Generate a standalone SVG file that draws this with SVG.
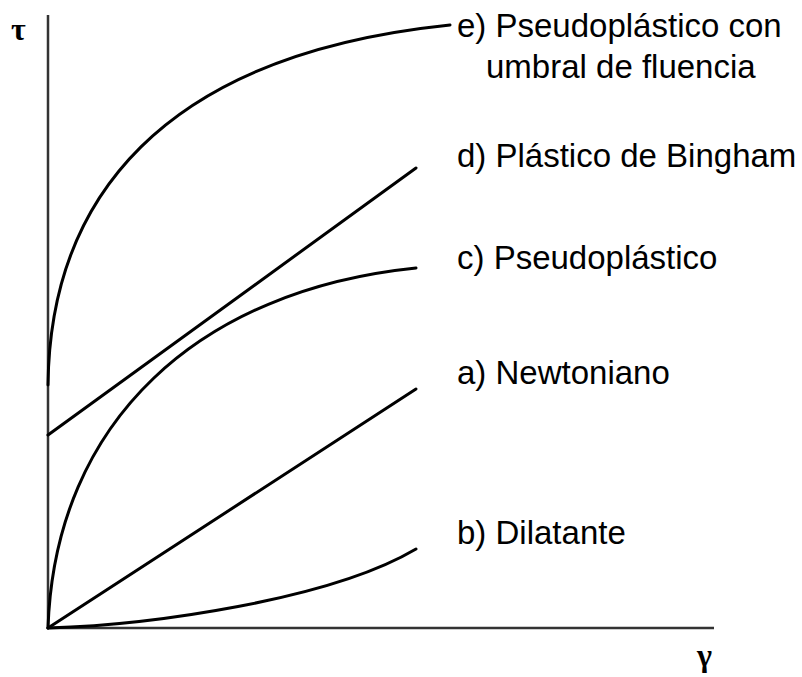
<svg xmlns="http://www.w3.org/2000/svg" width="802" height="677" viewBox="0 0 802 677">
<style>
.axis{stroke:#333;stroke-width:2.5;fill:none}
.curve{stroke:#000;stroke-width:3;fill:none;stroke-linecap:round}
.lbl{font-family:"Liberation Sans",Arial,sans-serif;font-size:33px;fill:#000}
.sym{font-family:"Liberation Serif","Times New Roman",serif;font-size:32px;font-weight:bold;fill:#000}
</style>
<rect width="802" height="677" fill="#fff"/>
<g id="axes">
<path class="axis" d="M48,15 V628 H714"/>
<text class="sym" x="11" y="40">τ</text>
<text class="sym" x="697" y="666">γ</text>
</g>
<g id="connectors">
<path id="curve-e" class="curve" d="M48,385 C50,200 160,55 450,25"/>
<path id="curve-d" class="curve" d="M48,435 L416,168"/>
<path id="curve-c" class="curve" d="M48,628 C55,420 200,290 416,268"/>
<path id="curve-a" class="curve" d="M48,628 L416,389"/>
<path id="curve-b" class="curve" d="M48,628 C150,625 330,600 416,549"/>
</g>
<g id="label-e"><text class="lbl" x="457" y="37">e) Pseudoplástico con</text><text class="lbl" x="486" y="78">umbral de fluencia</text></g>
<g id="label-d"><text class="lbl" x="457" y="167">d) Plástico de Bingham</text></g>
<g id="label-c"><text class="lbl" x="457" y="269">c) Pseudoplástico</text></g>
<g id="label-a"><text class="lbl" x="457" y="384">a) Newtoniano</text></g>
<g id="label-b"><text class="lbl" x="457" y="544">b) Dilatante</text></g>
</svg>
